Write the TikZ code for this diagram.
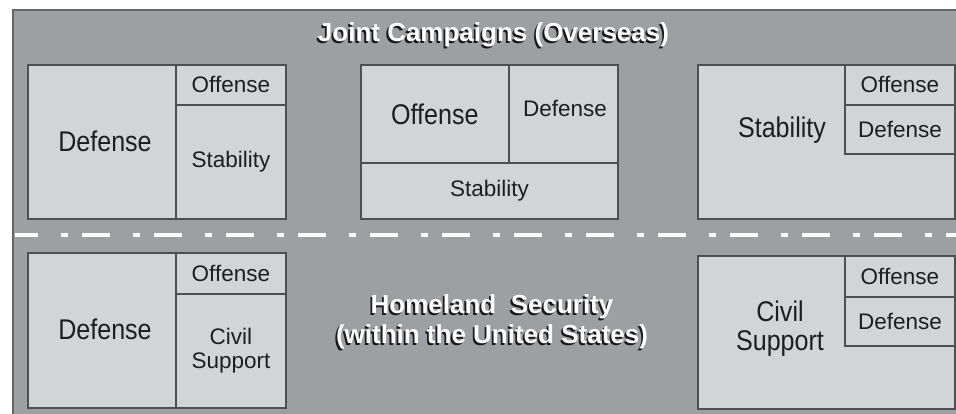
\documentclass[tikz,border=0pt]{standalone}
\usepackage{fontspec}
\setmainfont{Liberation Sans}
\newfontfamily\condfont[FakeStretch=0.88]{Liberation Sans}

\definecolor{panelgray}{RGB}{157,159,162}
\definecolor{panelline}{RGB}{100,101,104}
\definecolor{cellfill}{RGB}{211,212,214}
\definecolor{cellline}{RGB}{78,79,81}
\definecolor{celltext}{RGB}{30,30,30}

\newcommand{\bigtxt}{\condfont\fontsize{28.5}{29}\selectfont}
\newcommand{\smalltxt}{\fontsize{22.5}{24}\selectfont}
\newcommand{\headtxt}{\fontsize{26}{30}\selectfont\bfseries}

\tikzset{
  cell/.style={draw=cellline, fill=cellfill, line width=1.8pt, inner sep=0pt,
    anchor=north west, align=center, text=celltext},
  cellbig/.style={cell, font=\bigtxt},
  cellsmall/.style={cell, font=\smalltxt},
  bigtext/.style={font=\bigtxt, text=celltext, inner sep=0pt, align=center},
  head/.style={text=white, font=\headtxt, align=center, inner sep=0pt},
  headshade/.style={head, text=black!90},
}

\begin{document}
\begin{tikzpicture}[x=1pt,y=-1pt]
  \useasboundingbox (0,0) rectangle (956,414);

  % grey panel
  \fill[panelgray] (13,10) rectangle (970,430);
  \draw[panelline, line width=2.2pt] (13,430) -- (13,10) -- (970,10);

  % titles, with a dark shadow under the white text
  \coordinate (jointpos) at (493.5,42);
  \coordinate (homepos) at (492,322);
  \node[headshade, anchor=base] at ([shift={(-1.8pt,-1.8pt)}]jointpos) {Joint Campaigns (Overseas)};
  \node[head, anchor=base] (joint) at (jointpos) {Joint Campaigns (Overseas)};
  \node[headshade] at ([shift={(-1.8pt,-1.8pt)}]homepos) {Homeland\ \ Security\\(within the United States)};
  \node[head] (home) at (homepos) {Homeland\ \ Security\\(within the United States)};

  % divider between overseas and homeland
  \coordinate (splitL) at (15,235);
  \coordinate (splitR) at (960,235);
  \draw[white, line width=4pt, dash pattern=on 28pt off 23pt on 7pt off 14pt, dash phase=5pt]
    (splitL) -- (splitR);

  % joint campaigns, left
  \node[cell, minimum width=148pt, minimum height=154pt] (j1def) at (27,64) {};
  \node[bigtext] at (105,141) {Defense};
  \node[cellsmall, minimum width=110pt, minimum height=40pt] (j1off) at (175,64) {Offense};
  \node[cellsmall, minimum width=110pt, minimum height=114pt] (j1stab) at (175,104) {Stability};

  % joint campaigns, middle
  \node[cellbig, minimum width=148pt, minimum height=98pt] (j2off) at (360,64) {Offense};
  \node[cell, minimum width=109pt, minimum height=98pt] (j2def) at (508,64) {};
  \node[font=\smalltxt, text=celltext, inner sep=0pt] at (565,108) {Defense};
  \node[cellsmall, minimum width=257pt, minimum height=56pt] (j2stab) at (360,162) {Stability};

  % joint campaigns, right
  \node[cell, minimum width=257pt, minimum height=154pt] (j3stab) at (697,64) {};
  \node[bigtext] (j3stabtxt) at (782,130) {Stability};
  \node[cellsmall, minimum width=110pt, minimum height=40pt] (j3off) at (844,64) {Offense};
  \node[cellsmall, minimum width=110pt, minimum height=49pt] (j3def) at (844,104) {Defense};

  % homeland security, left
  \node[cell, minimum width=148pt, minimum height=155pt] (h1def) at (27,252) {};
  \node[bigtext] at (105,329.5) {Defense};
  \node[cellsmall, minimum width=110pt, minimum height=41pt] (h1off) at (175,252) {Offense};
  \node[cellsmall, minimum width=110pt, minimum height=114pt] (h1civ) at (175,293) {Civil\\Support};

  % homeland security, right
  \node[cell, minimum width=257pt, minimum height=153pt] (h2civ) at (697,255) {};
  \node[bigtext] (h2civtxt) at (780,329) {Civil\\Support};
  \node[cellsmall, minimum width=110pt, minimum height=41pt] (h2off) at (844,255) {Offense};
  \node[cellsmall, minimum width=110pt, minimum height=49pt] (h2def) at (844,296) {Defense};
\end{tikzpicture}
\end{document}
